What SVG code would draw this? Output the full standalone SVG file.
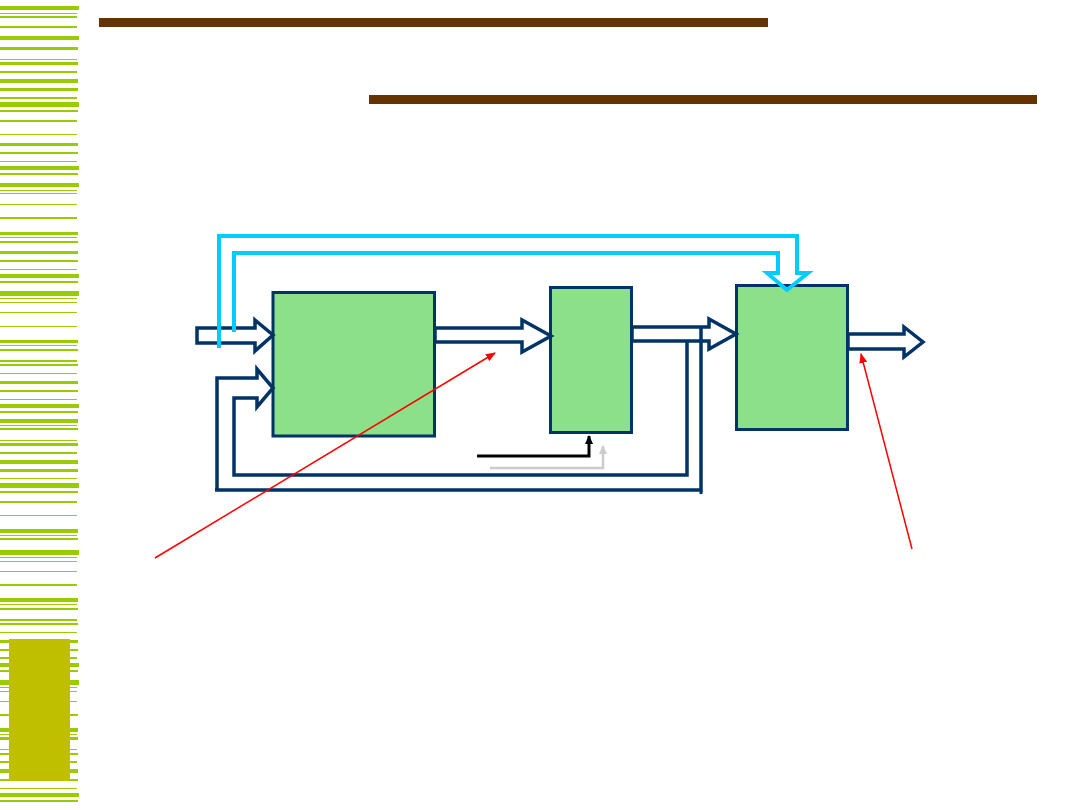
<svg xmlns="http://www.w3.org/2000/svg" width="1080" height="810" viewBox="0 0 1080 810">
<style>
.st{fill:#99CC00}
.bar{fill:#663300}
.box{fill:#8DE08A;stroke:#003366;stroke-width:3}
.nav{fill:none;stroke:#003366;stroke-width:3.5;stroke-linejoin:miter}
.blk{fill:#FFFFFF;stroke:#003366;stroke-width:3.5;stroke-linejoin:miter}
.cy{fill:none;stroke:#00CCFF;stroke-width:4;stroke-linejoin:miter}
.red{fill:none;stroke:#FF0000;stroke-width:1.5}
</style>
<defs>
<marker id="ar" markerWidth="10" markerHeight="8" refX="9" refY="4" orient="auto" markerUnits="userSpaceOnUse"><path d="M0,0 L10,4 L0,8 Z" fill="#FF0000"/></marker>
<marker id="ab" markerWidth="9" markerHeight="8" refX="8" refY="4" orient="auto" markerUnits="userSpaceOnUse"><path d="M0,0 L9,4 L0,8 Z" fill="#000000"/></marker>
<marker id="ag" markerWidth="9" markerHeight="8" refX="8" refY="4" orient="auto" markerUnits="userSpaceOnUse"><path d="M0,0 L9,4 L0,8 Z" fill="#CCCCCC"/></marker>
</defs>
<rect width="1080" height="810" fill="#FFFFFF"/>
<g id="stripes">
<rect class="st" x="0" y="6" width="79" height="4"/><rect class="st" x="0" y="13" width="77" height="1"/><rect class="st" x="0" y="16" width="77" height="2"/><rect class="st" x="0" y="26" width="77" height="2"/><rect class="st" x="0" y="36" width="79" height="4"/><rect class="st" x="0" y="47" width="78" height="3"/><rect class="st" x="0" y="59" width="77" height="1"/><rect class="st" x="0" y="62" width="78" height="3"/><rect class="st" x="0" y="71" width="77" height="2"/><rect class="st" x="0" y="79" width="78" height="4"/><rect class="st" x="0" y="88" width="78" height="3"/><rect class="st" x="0" y="97" width="77" height="2"/><rect class="st" x="0" y="102" width="79" height="5"/><rect class="st" x="0" y="110" width="78" height="2"/><rect class="st" x="0" y="120" width="77" height="2"/><rect class="st" x="0" y="134" width="77" height="1"/><rect class="st" x="0" y="143" width="78" height="3"/><rect class="st" x="0" y="152" width="78" height="2"/><rect class="st" x="0" y="161" width="77" height="1"/><rect class="st" x="0" y="166" width="79" height="4"/><rect class="st" x="0" y="173" width="78" height="2"/><rect class="st" x="0" y="183" width="79" height="4"/><rect class="st" x="0" y="190" width="77" height="1"/><rect class="st" x="0" y="193" width="77" height="1"/>
<rect class="st" x="0" y="204" width="77" height="1"/><rect class="st" x="0" y="217" width="77" height="2"/><rect class="st" x="0" y="232" width="78" height="3"/><rect class="st" x="0" y="237" width="77" height="1"/><rect class="st" x="0" y="241" width="78" height="2"/><rect class="st" x="0" y="251" width="78" height="3"/><rect class="st" x="0" y="260" width="78" height="2"/><rect class="st" x="0" y="269" width="77" height="1"/><rect class="st" x="0" y="274" width="79" height="4"/><rect class="st" x="0" y="281" width="78" height="2"/><rect class="st" x="0" y="291" width="79" height="5"/><rect class="st" x="0" y="298" width="77" height="1"/><rect class="st" x="0" y="302" width="77" height="1"/><rect class="st" x="0" y="312" width="77" height="1"/><rect class="st" x="0" y="326" width="77" height="1"/><rect class="st" x="0" y="340" width="78" height="3"/><rect class="st" x="0" y="345" width="77" height="1"/><rect class="st" x="0" y="349" width="78" height="2"/><rect class="st" x="0" y="360" width="77" height="2"/><rect class="st" x="0" y="364" width="78" height="2"/><rect class="st" x="0" y="373" width="77" height="1"/><rect class="st" x="0" y="381" width="78" height="3"/><rect class="st" x="0" y="390" width="78" height="2"/><rect class="st" x="0" y="399" width="77" height="1"/>
<rect class="st" x="0" y="404" width="79" height="4"/><rect class="st" x="0" y="411" width="78" height="2"/><rect class="st" x="0" y="419" width="78" height="4"/><rect class="st" x="0" y="425" width="77" height="1"/><rect class="st" x="0" y="428" width="78" height="2"/><rect class="st" x="0" y="440" width="77" height="1"/><rect class="st" x="0" y="443" width="78" height="3"/><rect class="st" x="0" y="452" width="77" height="2"/><rect class="st" x="0" y="460" width="78" height="4"/><rect class="st" x="0" y="469" width="78" height="3"/><rect class="st" x="0" y="478" width="77" height="1"/><rect class="st" x="0" y="483" width="79" height="5"/><rect class="st" x="0" y="491" width="78" height="2"/><rect class="st" x="0" y="501" width="77" height="2"/><rect class="st" x="0" y="515" width="77" height="1"/><rect class="st" x="0" y="529" width="78" height="4"/><rect class="st" x="0" y="535" width="77" height="1"/><rect class="st" x="0" y="538" width="78" height="2"/><rect class="st" x="0" y="550" width="79" height="5"/><rect class="st" x="0" y="557" width="77" height="1"/><rect class="st" x="0" y="561" width="77" height="1"/><rect class="st" x="0" y="571" width="77" height="1"/><rect class="st" x="0" y="584" width="77" height="2"/><rect class="st" x="0" y="598" width="78" height="4"/>
<rect class="st" x="0" y="604" width="77" height="1"/><rect class="st" x="0" y="608" width="78" height="2"/><rect class="st" x="0" y="619" width="77" height="2"/><rect class="st" x="0" y="623" width="78" height="2"/><rect class="st" x="0" y="632" width="77" height="1"/><rect class="st" x="0" y="640" width="78" height="3"/><rect class="st" x="0" y="649" width="78" height="2"/><rect class="st" x="0" y="657" width="77" height="2"/><rect class="st" x="0" y="663" width="79" height="4"/><rect class="st" x="0" y="670" width="78" height="2"/><rect class="st" x="0" y="680" width="79" height="5"/><rect class="st" x="0" y="687" width="77" height="1"/><rect class="st" x="0" y="691" width="77" height="1"/><rect class="st" x="0" y="701" width="77" height="1"/><rect class="st" x="0" y="714" width="78" height="2"/><rect class="st" x="0" y="728" width="78" height="4"/><rect class="st" x="0" y="734" width="77" height="1"/><rect class="st" x="0" y="737" width="78" height="3"/><rect class="st" x="0" y="749" width="77" height="1"/><rect class="st" x="0" y="753" width="78" height="2"/><rect class="st" x="0" y="761" width="77" height="2"/><rect class="st" x="0" y="769" width="78" height="4"/><rect class="st" x="0" y="779" width="78" height="2"/><rect class="st" x="0" y="788" width="77" height="1"/><rect class="st" x="0" y="793" width="79" height="4"/><rect class="st" x="0" y="800" width="78" height="2"/>
<rect x="9" y="639" width="61" height="142" fill="#BFBF00"/>
</g>
<g id="title-bars">
<rect class="bar" x="99" y="18" width="669" height="9"/>
<rect class="bar" x="369" y="95" width="668" height="9"/>
</g>
<g id="box1"><rect class="box" x="273" y="292.5" width="161.5" height="143.5"/></g>
<g id="box2"><rect class="box" x="550.5" y="287.5" width="81" height="145"/></g>
<g id="box3"><rect class="box" x="736.5" y="285.5" width="111" height="144"/></g>
<g id="connectors">
<polygon class="blk" points="197,328 255,328 255,320 273,335 255,351 255,343 197,343"/>
<polygon class="blk" points="435,328 522,328 522,320 551,336 522,352 522,342 435,342"/>
<polygon class="blk" points="632,327 709,327 709,319 736,334 709,349 709,341 632,341"/>
<polygon class="blk" points="848,334 904,334 904,327 923,342 904,357 904,349 848,349"/>
<polyline class="nav" points="217,490 217,378 257,378 257,369 273,388 257,407 257,398 234,398 234,475 687,475 687,341"/>
<polyline class="nav" points="215,490 701,490 701,327"/>
<line x1="701" y1="490" x2="701" y2="494" stroke="#003366" stroke-width="3"/>
<polyline class="cy" points="219,348 219,236 797,236 797,273 808,273 787,290 767,273 778,273 778,253 234,253 234,332"/>
<polyline fill="none" stroke="#000000" stroke-width="3" points="477,456 589,456 589,436" marker-end="url(#ab)"/>
<polyline fill="none" stroke="#CCCCCC" stroke-width="2.5" points="490,468 603,468 603,446" marker-end="url(#ag)"/>
<line class="red" x1="155" y1="558" x2="495" y2="353" marker-end="url(#ar)"/>
<line class="red" x1="912" y1="549" x2="861" y2="354" marker-end="url(#ar)"/>
</g>
</svg>
